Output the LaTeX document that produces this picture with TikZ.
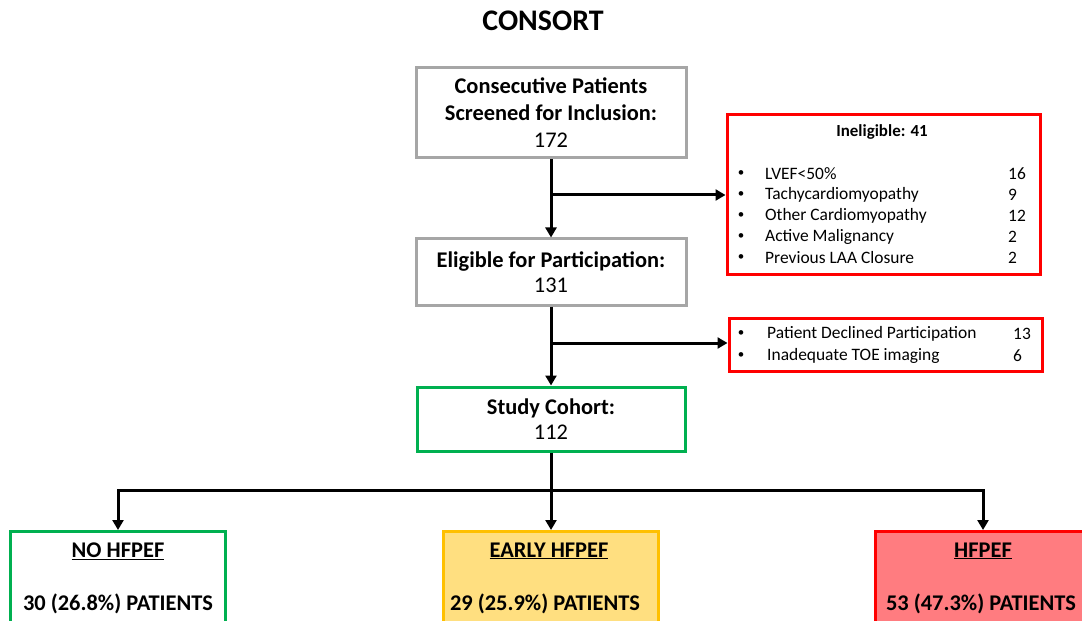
\documentclass[tikz,border=0pt]{standalone}
\usepackage{fontspec}
\setmainfont{Carlito}
\usetikzlibrary{arrows.meta}
\definecolor{boxGreyColor}{HTML}{A6A6A6}
\definecolor{boxGreenColor}{HTML}{00B050}
\definecolor{boxRedColor}{HTML}{FF0000}
\definecolor{boxGoldColor}{HTML}{FFC000}
\definecolor{fillGoldColor}{HTML}{FFDF80}
\definecolor{fillRedColor}{HTML}{FF7C80}
\def\fontBig{\fontsize{22.5}{27}\selectfont}
\def\fontList{\fontsize{17.5}{20}\selectfont}

\begin{document}
\begin{tikzpicture}[x=1bp,y=-1bp,
  flowBox/.style={draw, line width=3bp, inner sep=0pt, align=center},
  flowLink/.style={line width=3bp, -{Triangle[length=10bp,width=11bp]}},
  listText/.style={anchor=west, inner sep=0pt, font=\fontList},
  listDot/.style={inner sep=0pt, font=\fontsize{13}{16}\selectfont},
  headText/.style={inner sep=0pt, font=\fontBig\bfseries}]

% frame
\useasboundingbox (0, 0) rectangle (1082, 621);
\clip (0, 0) rectangle (1082, 621);

% title
\node[inner sep=0pt, font=\fontsize{30}{34}\selectfont\bfseries] (title) at (543, 21) {CONSORT};

% main boxes
\begin{scope}[every node/.append style={font=\fontBig}]
\node[flowBox, draw=boxGreyColor, minimum width=270bp, minimum height=90bp] (screen) at (551, 113)
{\textbf{Consecutive Patients}\\\textbf{Screened for Inclusion:}\\172};
\node[flowBox, draw=boxGreyColor, minimum width=270bp, minimum height=66bp] (eligible) at (551, 272)
{\textbf{Eligible for Participation:}\\[-2bp]131};
\node[flowBox, draw=boxGreenColor, minimum width=268bp, minimum height=64bp] (cohort) at (551, 419)
{\textbf{Study Cohort:}\\[-2bp]112};
\end{scope}

% exclusion boxes
\begin{scope}
\node[flowBox, draw=boxRedColor, minimum width=313bp, minimum height=159bp] (inelig) at (883.5, 194.5) {};
\node[inner sep=0pt, font=\fontsize{17}{20}\selectfont\bfseries] (ineligHead) at (882, 132) {Ineligible: 41};
\node[listDot] (dotA) at (741, 174) {•};
\node[listText] (itemA) at (765, 174) {LVEF<50\%};
\node[listText] (numA) at (1008, 174) {16};
\node[listDot] (dotB) at (741, 195) {•};
\node[listText] (itemB) at (765, 195) {Tachycardiomyopathy};
\node[listText] (numB) at (1008, 195) {9};
\node[listDot] (dotC) at (741, 216) {•};
\node[listText] (itemC) at (765, 216) {Other Cardiomyopathy};
\node[listText] (numC) at (1008, 216) {12};
\node[listDot] (dotD) at (741, 237) {•};
\node[listText] (itemD) at (765, 237) {Active Malignancy};
\node[listText] (numD) at (1008, 237) {2};
\node[listDot] (dotE) at (741, 258) {•};
\node[listText] (itemE) at (765, 258) {Previous LAA Closure};
\node[listText] (numE) at (1008, 258) {2};

\node[flowBox, draw=boxRedColor, minimum width=313bp, minimum height=53bp] (declined) at (885.5, 344.5) {};
\node[listDot] (dotF) at (741, 334) {•};
\node[listText] (itemF) at (767, 334) {Patient Declined Participation};
\node[listText] (numF) at (1013, 334) {13};
\node[listDot] (dotG) at (741, 356) {•};
\node[listText] (itemG) at (767, 356) {Inadequate TOE imaging};
\node[listText] (numG) at (1013, 356) {6};
\end{scope}

% outcome boxes
\begin{scope}
\node[flowBox, draw=boxGreenColor, fill=white, anchor=north, minimum width=215bp, minimum height=110bp] (noBox) at (118, 530) {};
\node[flowBox, draw=boxGoldColor, fill=fillGoldColor, anchor=north, minimum width=215bp, minimum height=110bp] (earlyBox) at (551, 530) {};
\node[flowBox, draw=boxRedColor, fill=fillRedColor, anchor=north, minimum width=215bp, minimum height=110bp] (hfpefBox) at (983, 530) {};
\node[headText] (noHead) at (118, 551) {\underline{NO HFPEF}};
\node[headText] (noCount) at (118, 604) {30 (26.8\%) PATIENTS};
\node[headText] (earlyHead) at (549, 551) {\underline{EARLY HFPEF}};
\node[headText] (earlyCount) at (545, 604) {29 (25.9\%) PATIENTS};
\node[headText] (hfpefHead) at (983, 551) {\underline{HFPEF}};
\node[headText] (hfpefCount) at (981, 604) {53 (47.3\%) PATIENTS};
\end{scope}

% links
\coordinate (splitA) at (551, 195);
\coordinate (splitB) at (551, 343);
\coordinate (splitC) at (551, 490);
\draw[flowLink] (screen.south) -- (eligible.north);
\draw[flowLink] (splitA) -- (splitA -| inelig.west);
\draw[flowLink] (eligible.south) -- (cohort.north);
\draw[flowLink] (splitB) -- (splitB -| declined.west);
\draw[line width=3bp] (cohort.south) -- (splitC);
\draw[flowLink] (splitC) -| (noBox.north);
\draw[flowLink] (splitC) -| (hfpefBox.north);
\draw[flowLink] (splitC) -- (earlyBox.north);

\end{tikzpicture}
\end{document}
